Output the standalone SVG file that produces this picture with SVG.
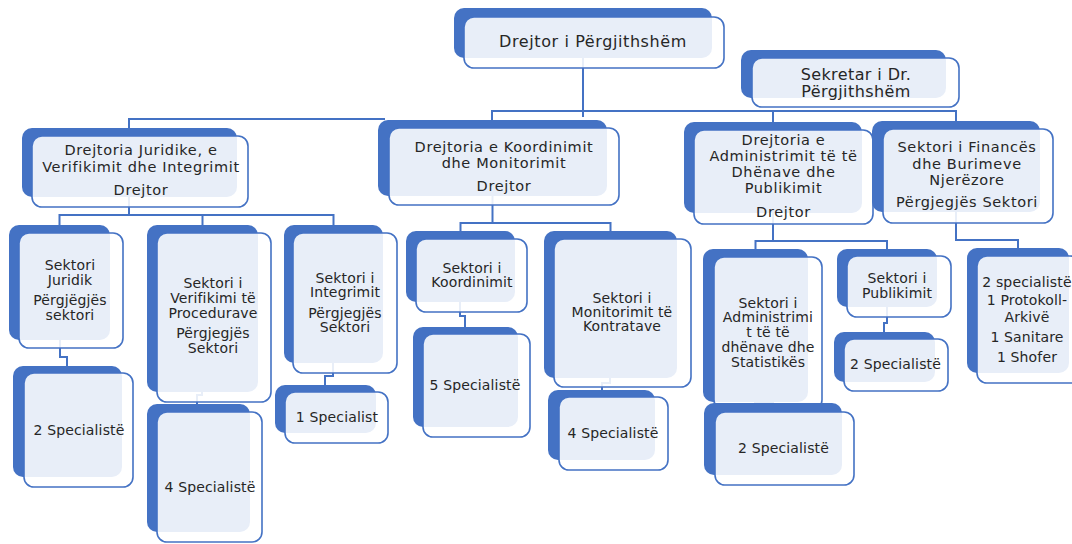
<svg xmlns="http://www.w3.org/2000/svg" width="1072" height="544" viewBox="0 0 1072 544">
<style>
.b{fill:#4472C4}
.f{fill:#ffffff;fill-opacity:0.88;stroke:#4472C4;stroke-width:1.6}
.c{fill:none;stroke:#4472C4;stroke-width:2}
text{font-family:"DejaVu Sans","Liberation Sans",sans-serif;fill:#262626;text-anchor:middle}
.t0{font-size:16px;letter-spacing:0.6px}
.ts{font-size:16px;letter-spacing:0.4px}
.t1{font-size:14.5px;letter-spacing:0.65px}
.t2{font-size:14px;letter-spacing:0.15px}
</style>
<rect width="1072" height="544" fill="#ffffff"/>
<g id="connectors">
<path class="c" d="M583,58 V117"/>
<path class="c" d="M492,121 V111 H956 V122"/>
<path class="c" d="M773,111 V123"/>
<path class="c" d="M129,129 V119 H385"/>
<path class="c" d="M129,197 V215"/>
<path class="c" d="M59.5,226 V215 H333.5 V226"/>
<path class="c" d="M202.5,215 V226"/>
<path class="c" d="M492.5,196 V223"/>
<path class="c" d="M460.5,232 V223 H610.5 V232"/>
<path class="c" d="M773,213 V241"/>
<path class="c" d="M755.5,250 V241 H887 V250"/>
<path class="c" d="M956,212 V240 H1018 V249"/>
<path class="c" d="M60,340 V357 H67 V367"/>
<path class="c" d="M202,392 V395 H197 V405"/>
<path class="c" d="M333,363 V376 H325 V386"/>
<path class="c" d="M460,302 V316 H465 V328"/>
<path class="c" d="M610,378 V383 H602 V391"/>
<path class="c" d="M755,400 V403 H773 V404"/>
<path class="c" d="M887,307 V323 H884 V333"/>
</g>
<g id="n-top">
<rect class="b" x="454" y="8" width="258" height="50" rx="10"/>
<rect class="f" x="464" y="17" width="260" height="51" rx="10"/>
<text class="t0" x="593" y="47">Drejtor i Përgjithshëm</text>
</g>
<g id="n-sekretar">
<rect class="b" x="741" y="50" width="205" height="48" rx="10"/>
<rect class="f" x="752" y="58" width="207" height="49" rx="10"/>
<text class="ts"><tspan x="856" y="80">Sekretar i Dr.</tspan><tspan x="856" y="97">Përgjithshëm</tspan></text>
</g>
<g id="n-juridike">
<rect class="b" x="22" y="128" width="215" height="69" rx="10"/>
<rect class="f" x="32" y="136" width="216" height="71" rx="10"/>
<text class="t1"><tspan x="141" y="155">Drejtoria Juridike, e</tspan><tspan x="141" y="172">Verifikimit dhe Integrimit</tspan><tspan x="141" y="195">Drejtor</tspan></text>
</g>
<g id="n-koordinimit">
<rect class="b" x="378" y="120" width="229" height="76" rx="10"/>
<rect class="f" x="389" y="128" width="230" height="77" rx="10"/>
<text class="t1"><tspan x="504" y="152">Drejtoria e Koordinimit</tspan><tspan x="504" y="168">dhe Monitorimit</tspan><tspan x="504" y="191">Drejtor</tspan></text>
</g>
<g id="n-administrimit">
<rect class="b" x="684" y="122" width="178" height="91" rx="10"/>
<rect class="f" x="694" y="130" width="179" height="94" rx="10"/>
<text class="t1"><tspan x="783.5" y="144.5">Drejtoria e</tspan><tspan x="783.5" y="160.5">Administrimit të të</tspan><tspan x="783.5" y="177">Dhënave dhe</tspan><tspan x="783.5" y="193">Publikimit</tspan><tspan x="783.5" y="216.5">Drejtor</tspan></text>
</g>
<g id="n-finances">
<rect class="b" x="872" y="121" width="168" height="91" rx="10"/>
<rect class="f" x="883" y="129" width="170" height="94" rx="10"/>
<text class="t1"><tspan x="967" y="152">Sektori i Financës</tspan><tspan x="967" y="168.5">dhe Burimeve</tspan><tspan x="967" y="185">Njerëzore</tspan><tspan x="967" y="207">Përgjegjës Sektori</tspan></text>
</g>
<g id="n-sektori-juridik">
<rect class="b" x="9" y="225" width="101" height="115" rx="10"/>
<rect class="f" x="19" y="233" width="104" height="115" rx="10"/>
<text class="t2"><tspan x="70" y="270">Sektori</tspan><tspan x="70" y="284.5">Juridik</tspan><tspan x="70" y="305">Përgjëgjës</tspan><tspan x="70" y="320">sektori</tspan></text>
</g>
<g id="n-juridik-specialiste">
<rect class="b" x="13" y="366" width="109" height="111" rx="10"/>
<rect class="f" x="24" y="373" width="109" height="114" rx="10"/>
<text class="t2" x="79" y="435">2 Specialistë</text>
</g>
<g id="n-verifikimi">
<rect class="b" x="147" y="225" width="111" height="167" rx="10"/>
<rect class="f" x="157" y="233" width="114" height="169" rx="10"/>
<text class="t2"><tspan x="213" y="288">Sektori i</tspan><tspan x="213" y="303">Verifikimi të</tspan><tspan x="213" y="318">Procedurave</tspan><tspan x="213" y="338">Përgjegjës</tspan><tspan x="213" y="353">Sektori</tspan></text>
</g>
<g id="n-verifikimi-specialiste">
<rect class="b" x="147" y="404" width="103" height="128" rx="10"/>
<rect class="f" x="157" y="412" width="105" height="130" rx="10"/>
<text class="t2" x="210" y="491.5">4 Specialistë</text>
</g>
<g id="n-integrimit">
<rect class="b" x="284" y="225" width="99" height="138" rx="10"/>
<rect class="f" x="293" y="233" width="104" height="140" rx="10"/>
<text class="t2"><tspan x="345" y="283">Sektori i</tspan><tspan x="345" y="297">Integrimit</tspan><tspan x="345" y="318">Përgjegjës</tspan><tspan x="345" y="332">Sektori</tspan></text>
</g>
<g id="n-integrimit-specialist">
<rect class="b" x="275" y="385" width="101" height="48" rx="10"/>
<rect class="f" x="285" y="392" width="103" height="51" rx="10"/>
<text class="t2" x="337" y="422">1 Specialist</text>
</g>
<g id="n-sektori-koordinimit">
<rect class="b" x="406" y="231" width="109" height="71" rx="10"/>
<rect class="f" x="416" y="239" width="111" height="73" rx="10"/>
<text class="t2"><tspan x="472" y="272.5">Sektori i</tspan><tspan x="472" y="287">Koordinimit</tspan></text>
</g>
<g id="n-koordinimit-specialiste">
<rect class="b" x="413" y="327" width="105" height="100" rx="10"/>
<rect class="f" x="423" y="334" width="107" height="103" rx="10"/>
<text class="t2" x="475" y="390">5 Specialistë</text>
</g>
<g id="n-monitorimit">
<rect class="b" x="544" y="231" width="133" height="147" rx="10"/>
<rect class="f" x="554" y="239" width="137" height="148" rx="10"/>
<text class="t2"><tspan x="622" y="303">Sektori i</tspan><tspan x="622" y="317">Monitorimit të</tspan><tspan x="622" y="331">Kontratave</tspan></text>
</g>
<g id="n-monitorimit-specialiste">
<rect class="b" x="548" y="390" width="107" height="70" rx="10"/>
<rect class="f" x="559" y="397" width="109" height="73" rx="10"/>
<text class="t2" x="613" y="438">4 Specialistë</text>
</g>
<g id="n-sektori-administrimit">
<rect class="b" x="703" y="249" width="105" height="153" rx="10"/>
<rect class="f" x="714" y="257" width="108" height="153" rx="10"/>
<text class="t2"><tspan x="768" y="307.5">Sektori i</tspan><tspan x="768" y="322">Administrimi</tspan><tspan x="768" y="337">t të të</tspan><tspan x="768" y="352">dhënave dhe</tspan><tspan x="768" y="367">Statistikës</tspan></text>
</g>
<g id="n-administrimit-specialiste">
<rect class="b" x="704" y="403" width="138" height="72" rx="10"/>
<rect class="f" x="715" y="412" width="139" height="73" rx="10"/>
<text class="t2" x="783.5" y="452.5">2 Specialistë</text>
</g>
<g id="n-publikimit">
<rect class="b" x="837" y="249" width="100" height="58" rx="10"/>
<rect class="f" x="847" y="256" width="104" height="61" rx="10"/>
<text class="t2"><tspan x="897" y="283">Sektori i</tspan><tspan x="897" y="297.5">Publikimit</tspan></text>
</g>
<g id="n-publikimit-specialiste">
<rect class="b" x="834" y="332" width="101" height="50" rx="10"/>
<rect class="f" x="844" y="339" width="104" height="52" rx="10"/>
<text class="t2" x="895.5" y="369">2 Specialistë</text>
</g>
<g id="n-finances-staff">
<rect class="b" x="967" y="248" width="102" height="125" rx="10"/>
<rect class="f" x="977" y="256" width="103" height="127" rx="10"/>
<text class="t2"><tspan x="1027" y="287">2 specialistë</tspan><tspan x="1027" y="305">1 Protokoll-</tspan><tspan x="1027" y="321.5">Arkivë</tspan><tspan x="1027" y="341.5">1 Sanitare</tspan><tspan x="1027" y="361.5">1 Shofer</tspan></text>
</g>
</svg>
